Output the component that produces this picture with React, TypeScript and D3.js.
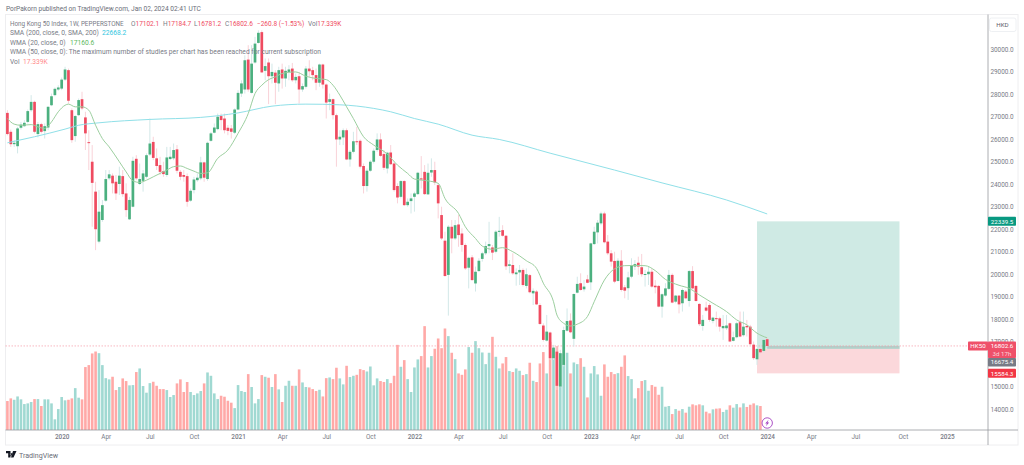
import { useEffect, useRef } from 'react'
import * as d3 from 'd3'

const opens = [
  27160,26320,25770,25680,26500,26570,26760,27280,27650,26220,
  26660,26350,26510,27500,27950,28200,28240,28640,29060,27280,
  26130,27060,27770,26960,25860,24990,23660,21440,22400,23260,
  24250,24370,24100,24000,24350,23580,22430,22990,25120,24000,
  24140,24320,25310,25870,25140,24840,24570,24400,25110,25140,
  25540,24540,24400,24350,23260,23730,24170,24250,24960,24220,
  25920,26280,26440,27020,26910,26500,26470,26280,27310,28020,
  28200,29530,28050,29400,30270,30750,29030,29400,28790,28950,
  28470,29090,28690,28980,29130,28610,28790,28200,28320,29130,
  29060,28840,28500,29310,28420,27650,27770,27060,25980,26070,
  26390,25090,25430,25900,25920,24800,23910,24590,24990,25510,
  25980,25330,24690,25400,24910,23910,23430,24130,23060,23240,
  23430,23550,24250,24540,23540,24510,24620,23950,22620,21480,
  19960,22100,21580,22200,21800,21290,20280,20740,19580,20130,
  20670,20920,21240,21180,20990,21870,21950,21700,20360,20400,
  19990,20070,20180,19470,19950,19140,19220,18620,17710,17040,
  17400,16260,16550,15000,15960,17480,17930,17120,19170,19590,
  19320,19760,19630,21330,21850,22250,22690,21440,20920,20580,
  19690,20590,19410,19370,19880,20330,20500,20300,19970,19990,
  20100,19480,19470,18550,19040,19340,19960,18770,19040,18700,
  19220,18800,20130,19470,18670,17690,18510,18620,17910,18040,
  18030,17590,17590,17810,17030,17190,17860,17280,17690,17660,
  16860,16210,16670,16580,17102.1,
]
const closes = [
  26220,25770,25830,26470,26640,26720,27240,27650,26320,26660,
  26320,26570,27430,27900,28230,28290,28640,29090,27700,25950,
  27020,27730,27360,26250,25830,24050,21990,22770,23060,24220,
  24430,24030,23580,24370,23550,22840,23290,25030,24250,24220,
  24470,25280,25800,25160,24800,24540,24440,25180,25210,25510,
  24590,24320,24320,23210,23700,24200,24280,24960,24280,25830,
  26250,26510,26990,26840,26390,26360,26320,27310,28050,28470,
  29500,28200,29350,30240,30720,28960,29240,28790,28980,28500,
  29060,28690,29030,29090,28610,28760,28200,28350,29130,29010,
  28840,28500,29310,28420,27620,27770,27060,25980,26100,26390,
  25090,25430,25900,25880,24770,23910,24590,24990,25480,25980,
  25250,24720,25390,24880,23730,23400,24130,23060,23210,23360,
  23580,24500,24200,23550,24500,24620,24070,23140,21580,19910,
  22100,21580,22170,21730,21290,20250,20720,19730,20100,20590,
  20920,21240,21330,20950,21880,21920,21700,20340,20430,20030,
  20070,20180,19510,19990,19190,19250,18650,17780,17070,17440,
  16260,16730,15030,16480,17510,17910,17410,19110,19560,19290,
  19440,19610,21360,21880,22280,22690,21410,20920,20550,19660,
  20590,19290,19260,19850,20400,20440,20330,19990,20000,20100,
  19440,19410,18550,19100,19360,19960,18730,19040,18650,19290,
  18920,20130,19360,18800,17770,17960,18370,17960,18060,17990,
  17660,17690,17710,17000,17190,17810,17220,17660,17630,16880,
  16260,16670,16520,17070,16802.6,
]
const highs = [
  27280,26420,25950,26540,26760,26840,27310,27950,27700,26760,
  26720,26690,27460,28020,28290,28390,28730,29210,29130,27360,
  27060,27800,28100,27210,26390,25730,24100,23730,23290,24620,
  24620,24470,24400,24770,24620,24030,23430,25210,25280,24910,
  24620,25360,26910,26100,25580,25210,24990,25650,25650,25800,
  25730,24620,24620,24470,23800,24320,24470,25210,24990,25880,
  26320,26690,27130,27130,27130,26620,26620,27360,28170,28610,
  29720,30170,30170,30540,30830,30830,29580,29580,29350,29060,
  29210,29350,29210,29280,29380,28910,28980,28470,29240,29500,
  29210,29130,29350,29350,28470,28020,27800,27130,26390,26470,
  26470,25510,26320,26540,25980,24910,24690,25060,25580,26250,
  26250,25510,25430,25730,24990,24030,24170,24170,23360,23580,
  23660,24540,25240,24840,24910,25140,24990,24030,22990,21880,
  22170,22400,22400,22620,22030,21360,20770,20840,20330,20700,
  20990,21440,22320,21290,21950,22540,22170,21730,20620,20920,
  20250,20400,20250,20250,20000,19360,19290,18700,17810,18180,
  17440,16850,16800,16630,17660,18470,18250,19140,19880,20030,
  19730,19960,21390,22100,22400,22770,22770,21730,21060,20990,
  20700,21060,19510,20100,20700,20620,20770,20890,20180,20330,
  20250,19730,19510,19140,19590,20180,20030,19070,19070,19360,
  19290,20180,20350,19510,18700,18180,18770,18700,18100,18330,
  18100,18180,18180,17840,17440,17880,18330,18330,17960,17740,
  17000,16700,16700,17100,17184.7,
]
const lows = [
  26160,25650,25650,25360,26420,26540,26690,27210,26250,26070,
  26250,26020,26390,27460,27900,28140,28170,28580,27580,25830,
  25880,27020,27280,25510,24620,22100,21060,21360,22320,23210,
  24170,23580,23290,23510,23430,22540,22400,22960,24170,23950,
  23660,24250,25240,25060,24620,24400,24320,24320,25060,25060,
  24470,24170,24100,22990,23210,23580,24100,24170,24100,24140,
  25880,26250,26390,26390,26250,26170,26020,26220,27280,27870,
  28020,28100,28020,29350,30240,28940,28610,27550,28470,27550,
  28100,28240,28320,28610,28540,28470,27580,28100,28240,28760,
  28610,28170,28320,28240,26910,27280,26870,24770,25730,25730,
  25060,24770,25360,25730,24690,23580,23660,24540,24910,25430,
  25210,24620,24470,24840,23660,23140,23360,23020,22990,22690,
  22770,23510,23800,23510,23510,24320,23950,22470,21510,19880,
  18150,20920,21510,21210,20990,20180,19360,19700,19220,20100,
  20550,20840,20920,20620,20920,21660,21660,20180,20030,19960,
  19480,19510,19440,19360,19140,18620,18620,17740,17000,17000,
  16180,16180,14850,14970,15890,17440,17370,16770,19140,19260,
  19220,19590,19290,21290,21360,22170,21360,20840,20330,19590,
  19660,19220,18920,18850,19810,20180,19960,19880,19440,19510,
  19390,19140,18520,18060,18990,19290,18700,18700,18250,18330,
  18880,18550,19320,18770,17690,17480,18330,17880,17810,17660,
  17440,17070,17510,16970,17000,17140,17190,17220,17220,16830,
  16180,15960,16450,16510,16781.2,
]
const volumes = [
  20.9,22.8,21.8,24.2,22.1,18.7,19.2,20.2,22.3,22.3,
  17.3,22.1,22.1,19.2,7.7,15.1,23.8,21.4,21.8,22.8,
  30.2,23.3,22.1,45.4,46.8,55.2,56.6,55.4,46.8,37.4,
  36.5,38.4,28.8,31,37.2,35.3,32.2,32.4,41.8,44.4,
  31.7,26.9,33.8,34.8,31.9,29.5,29.5,28.8,23.8,25.2,
  33.6,36.5,27.4,34.6,27.4,25.2,26.4,28.1,33.6,41.5,
  39.1,26.4,22.3,24.7,24,21.1,19.7,15.8,32.4,28.1,
  27.4,40.3,31,19.2,22.3,39.6,38.4,37.7,31,40.3,
  29.3,20.2,31.9,35.5,31.9,31.9,43.7,34.3,31,30.7,
  29.5,28.1,29,24.2,37.4,37.9,36.7,44.9,37.2,32.9,
  46.3,38.2,39.1,39.8,43.9,43.2,42.2,45.8,32.2,37.2,
  35.3,34.6,36.7,33.8,39.1,61.4,45.6,50.4,36.7,27.4,
  45.1,50.9,53.3,74.9,45.1,53.3,58.6,66,59,73.2,
  67.7,55.7,51.1,40.8,39.8,43.7,59.8,55.7,64.1,59,
  55.9,47.5,55.7,67.2,52.8,44.4,48,52.6,42.5,41.8,
  44.4,42.7,39.6,40.3,48.5,35.5,34.6,48,56.2,40.8,
  63.6,58.8,60.5,55.2,55.2,55.7,40.8,48.7,47.5,51.8,
  45.6,23.5,40.8,46.1,40.1,24.7,47.3,38.4,41.8,40.3,
  41,45.6,53.8,38.9,36.7,22.8,30.2,35.3,36,28.3,
  32.4,31.2,25.4,31.2,16.8,17.3,11.5,15.1,13.9,15.1,
  12.5,16.8,18.5,17.8,18.5,17.8,13.2,12,14.9,15.4,
  15.6,13,14.6,17.8,16.1,18.7,16.3,19.2,16.6,18.2,
  19.2,17.8,17.3,
]

// week index / value pairs
const smaWeeks = [0,8,17,21,27,42,57,68,78,88,98,108,113,120,127,137,145,160,179,193,212,224]
const smaValues = [25830,26100,26440,26610,26720,26870,26960,27160,27460,27550,27520,27360,27210,26910,26660,26170,25980,25370,24620,24050,23290,22668.2]
const wmaWeeks = [0,2,4,7,9,11,13,15,17,18,20,22,24,26,28,30,33,35,37,39,41,43,45,47,49,51,53,55,57,59,62,65,68,71,73,75,77,79,81,85,88,91,94,96,98,100,102,105,108,112,115,118,120,124,127,129,133,135,138,140,143,146,149,153,156,158,161,162,164,166,168,171,173,176,179,182,185,188,191,194,198,201,204,208,212,215,218,221,224]
const wmaValues = [26910,26660,26610,26640,26540,26470,26760,27210,27500,27550,27430,27430,27280,26610,26020,25650,24990,24540,24140,24070,24170,24320,24470,24620,24770,24800,24690,24570,24470,24500,25140,25510,26250,27130,28020,28390,28640,28760,28910,28980,28790,28690,28640,28390,27950,27430,26910,26100,25730,25330,24840,24470,24220,24140,24030,23360,22690,22100,21580,21240,21100,21170,20990,20590,20250,19590,18770,18180,17810,17690,17770,18110,18770,19730,20230,20370,20380,20370,20150,19760,19500,19360,19070,18700,18330,17960,17740,17370,17160.6]

// 16000 sits under the entry tag in the reference, so it has no label
const priceTicks = [14000,15000,17000,18000,19000,20000,21000,22000,23000,24000,25000,26000,27000,28000,29000,30000]
const timeTicks = ['2020-01','2020-04','2020-07','2020-10','2021-01','2021-04','2021-07','2021-10','2022-01','2022-04','2022-07','2022-10','2023-01','2023-04','2023-07','2023-10','2024-01','2024-04','2024-07','2024-10','2025-01']

const lastPrice = 16802.6
const targetPrice = 22339.5
const entryPrice = 16675.4
const stopPrice = 15584.3

const GREEN = '#4bb07f'
const RED = '#ef4b60'
const FONT = 'Roboto, sans-serif'

export default function App() {
  const svgRef = useRef<SVGSVGElement>(null)

  useEffect(() => {
    const svg = d3.select(svgRef.current)
    svg.selectAll('*').remove()

    const start = new Date(2019, 8, 16)
    const weekDate = (i: number) => d3.timeMonday.offset(start, i)
    const x = d3.scaleTime().domain([start, weekDate(224)]).range([7.4, 767.2])
    const y = d3.scaleLinear().domain([14000, 30000]).range([409, 49])
    const yVol = d3.scaleLinear().domain([0, 75]).range([430, 326])
    const left = 5.5, right = 1018, top = 14.5, bottom = 445, axisX = 988, baseY = 430

    svg.append('rect').attr('width', 1024).attr('height', 465).attr('fill', '#fff')

    // Frame
    svg.append('rect')
      .attr('x', left).attr('y', top).attr('width', right - left).attr('height', bottom - top)
      .attr('fill', 'none').attr('stroke', '#eeeef0')

    // Long position box
    const boxX0 = x(weekDate(221))
    const boxX1 = x(weekDate(263))
    svg.append('rect')
      .attr('x', boxX0).attr('width', boxX1 - boxX0)
      .attr('y', y(targetPrice)).attr('height', y(entryPrice) - y(targetPrice))
      .attr('fill', '#cfeae4')
    svg.append('rect')
      .attr('x', boxX0).attr('width', boxX1 - boxX0)
      .attr('y', y(entryPrice)).attr('height', y(stopPrice) - y(entryPrice))
      .attr('fill', '#fbd8db')
    svg.append('rect')
      .attr('x', x(weekDate(224))).attr('width', boxX1 - x(weekDate(224)))
      .attr('y', y(lastPrice)).attr('height', y(entryPrice) - y(lastPrice))
      .attr('fill', '#b3cfc9')

    // Volume
    svg.append('g').selectAll('rect').data(volumes).join('rect')
      .attr('x', (_, i) => x(weekDate(i)) - 1.3)
      .attr('width', 2.6)
      .attr('y', (d) => yVol(d))
      .attr('height', (d) => baseY - yVol(d))
      .attr('fill', (_, i) => (closes[i] >= opens[i] ? '#a0d9d2' : '#ffa9a7'))

    // Last price line
    svg.append('line')
      .attr('x1', left).attr('x2', axisX).attr('y1', y(lastPrice)).attr('y2', y(lastPrice))
      .attr('stroke', '#f79aa8').attr('stroke-width', 0.7).attr('stroke-dasharray', '1.5 1.5')

    // Candles
    const candles = svg.append('g').selectAll('g').data(opens).join('g')
    candles.append('line')
      .attr('x1', (_, i) => x(weekDate(i))).attr('x2', (_, i) => x(weekDate(i)))
      .attr('y1', (_, i) => y(highs[i])).attr('y2', (_, i) => y(lows[i]))
      .attr('stroke', (_, i) => (closes[i] >= opens[i] ? '#d2e8e8' : '#f9d2d8'))
      .attr('stroke-width', 1)
    candles.append('rect')
      .attr('x', (_, i) => x(weekDate(i)) - 1.35)
      .attr('width', 2.7)
      .attr('y', (d, i) => y(Math.max(d, closes[i])))
      .attr('height', (d, i) => Math.max(1, Math.abs(y(d) - y(closes[i]))))
      .attr('fill', (d, i) => (closes[i] >= d ? GREEN : RED))

    // Moving averages
    const line = d3.line<number>()
      .x((d) => x(weekDate(d)))
      .curve(d3.curveMonotoneX)
    svg.append('path')
      .attr('d', line.y((_, i) => y(smaValues[i]))(smaWeeks))
      .attr('fill', 'none').attr('stroke', '#90e0e8').attr('stroke-width', 1)
    svg.append('path')
      .attr('d', line.y((_, i) => y(wmaValues[i]))(wmaWeeks))
      .attr('fill', 'none').attr('stroke', '#9ccf9f').attr('stroke-width', 1)

    // Axis lines
    svg.append('line').attr('x1', left).attr('x2', right).attr('y1', baseY).attr('y2', baseY)
      .attr('stroke', '#97999f').attr('stroke-width', 0.8)
    svg.append('line').attr('x1', axisX).attr('x2', axisX).attr('y1', top).attr('y2', bottom)
      .attr('stroke', '#97999f').attr('stroke-width', 0.8)

    // Price axis
    svg.append('g')
      .attr('transform', `translate(${axisX},0)`)
      .call(d3.axisRight(y).tickValues(priceTicks).tickSize(0).tickFormat(d3.format('.1f')))
      .call((ax) => ax.select('.domain').remove())
      .call((ax) => ax.selectAll('text')
        .attr('x', 14).attr('text-anchor', 'middle')
        .attr('fill', '#787b86').attr('font-size', 6.4).attr('font-family', FONT))

    // Time axis
    const tickDates = timeTicks.map((s) => d3.timeMonday.ceil(d3.timeParse('%Y-%m')(s) as Date))
    svg.append('g')
      .attr('transform', `translate(0,${baseY})`)
      .call(d3.axisBottom(x).tickValues(tickDates).tickSize(0).tickPadding(4)
        .tickFormat((d) => {
          const month = d3.timeFormat('%b')(d as Date)
          return month === 'Jan' ? d3.timeFormat('%Y')(d as Date) : month
        }))
      .call((ax) => ax.select('.domain').remove())
      .call((ax) => ax.selectAll('text')
        .attr('fill', '#787b86').attr('font-size', 6.4).attr('font-family', FONT)
        .attr('font-weight', function () {
          return /^\d+$/.test(d3.select(this).text()) ? 500 : 400
        }))

    // Axis tags
    const tag = (tx: number, tw: number, ty: number, th: number, fill: string, label: string, textY = ty + th / 2 + 2.2, color = '#fff') => {
      svg.append('rect').attr('x', tx).attr('y', ty).attr('width', tw).attr('height', th).attr('rx', 0.8).attr('fill', fill)
      svg.append('text').attr('x', tx + tw / 2).attr('y', textY).attr('text-anchor', 'middle')
        .attr('fill', color).attr('font-size', 6.2).attr('font-family', FONT).text(label)
    }
    tag(988, 28, y(targetPrice) - 4.5, 9, '#089981', d3.format('.1f')(targetPrice))
    tag(968, 20, y(lastPrice) - 4.5, 9, '#ef5069', 'HK50')
    tag(988, 28, y(lastPrice) - 4.5, 16.5, '#ef5069', d3.format('.1f')(lastPrice), y(lastPrice) + 1.8)
    svg.append('text').attr('x', 1002).attr('y', y(lastPrice) + 9.8).attr('text-anchor', 'middle')
      .attr('fill', '#fbd5da').attr('font-size', 6.2).attr('font-family', FONT).text('3d 17h')
    tag(988, 28, y(lastPrice) + 12, 8.5, '#787b86', d3.format('.1f')(entryPrice))
    tag(988, 28, y(stopPrice) - 4.5, 9, '#f23645', d3.format('.1f')(stopPrice))

    // HKD button
    svg.append('rect').attr('x', 989.5).attr('y', 18).attr('width', 26.5).attr('height', 13.5).attr('rx', 2)
      .attr('fill', '#fff').attr('stroke', '#eef0f3')
    svg.append('text').attr('x', 1002.5).attr('y', 27).attr('text-anchor', 'middle')
      .attr('fill', '#5d606b').attr('font-size', 6.2).attr('font-family', FONT).text('HKD')

    // Header and legend
    const label = (lx: number, ly: number, text: string, fill = '#787b86', size = 6.7) =>
      svg.append('text').attr('x', lx).attr('y', ly).attr('fill', fill)
        .attr('font-size', size).attr('font-family', FONT).text(text)
    label(6, 10.5, 'PorPakorn published on TradingView.com, Jan 02, 2024 02:41 UTC', '#6a6d78', 6.6)
    label(10, 25.5, 'Hong Kong 50 Index, 1W, PEPPERSTONE', '#787b86', 6.3)
    const ohlc: [number, string, string][] = [
      [131, 'O', '17102.1'], [163, 'H', '17184.7'], [194, 'L', '16781.2'], [225, 'C', '16802.6'],
    ]
    ohlc.forEach(([lx, name, value]) => {
      const t = label(lx, 25.5, name, '#787b86', 6.5)
      t.append('tspan').attr('fill', RED).text(value)
    })
    label(257, 25.5, '\u2212260.8 (\u22121.53%)', RED, 6.5)
    label(308, 25.5, 'Vol', '#787b86', 6.5).append('tspan').attr('fill', RED).text('17.339K')
    label(10, 35, 'SMA (200, close, 0, SMA, 200)')
    label(102, 35, '22668.2', '#2fc6e0')
    label(10, 44.5, 'WMA (20, close, 0)')
    label(70, 44.5, '17160.6', '#5cb85c')
    label(10, 54, 'WMA (50, close, 0): The maximum number of studies per chart has been reached for current subscription')
    label(10, 63.5, 'Vol')
    label(23, 63.5, '17.339K', '#ff8c8c')

    // Bolt marker
    const bolt = svg.append('g').attr('transform', `translate(${x(weekDate(224))},423)`)
    bolt.append('circle').attr('r', 5.2).attr('fill', '#fff').attr('stroke', '#a33fc0').attr('stroke-width', 0.9)
    bolt.append('path').attr('d', 'M1.4,-3.2 L-2,0.6 L-0.2,0.6 L-1.4,3.2 L2,-0.6 L0.2,-0.6 Z').attr('fill', '#a33fc0')

    // Logo
    const logo = svg.append('g').attr('transform', 'translate(6,451)')
    logo.append('path').attr('d', 'M0,0 H4.5 V6.5 H2.2 V2.2 H0 Z M5,2 a1.2,1.2 0 1 0 0.01,0 Z M7,0 H10.5 L7.5,6.5 H5 Z').attr('fill', '#131722')
    label(19, 457.5, 'TradingView', '#6a6d78', 7.1)
  }, [])

  return (
    <svg
      ref={svgRef}
      width={1024}
      height={465}
      style={{ position: 'absolute', left: 0, top: 0, display: 'block' }}
    />
  )
}
